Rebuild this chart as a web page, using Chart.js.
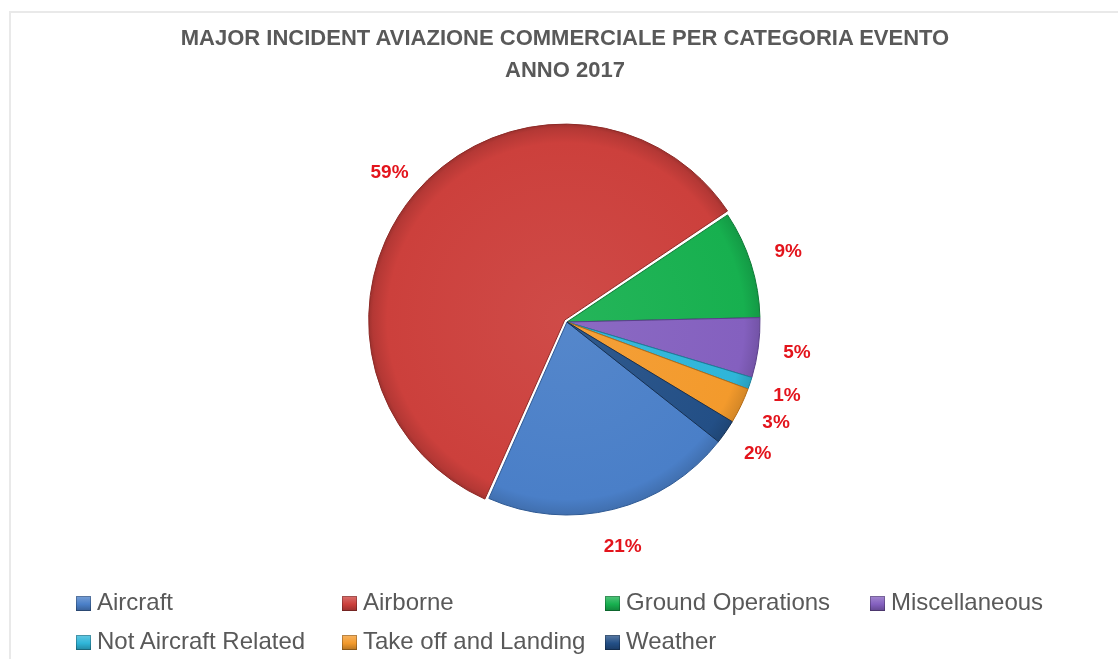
<!DOCTYPE html>
<html>
<head>
<meta charset="utf-8">
<script src="https://cdn.jsdelivr.net/npm/chart.js@4"></script>
<style>
  html, body { margin: 0; padding: 0; background: #fff; }
  #wrap { position: relative; width: 1118px; height: 659px; overflow: hidden; }
  #frame { position: absolute; left: 9px; top: 11px; width: 1200px; height: 700px;
           border-left: 2px solid #e9e9e9; border-top: 2px solid #e9e9e9; }
  #chart { position: absolute; left: 0; top: 0; }
  #title { position: absolute; left: 0; top: 22px; width: 1130px; text-align: center;
           font: bold 22px "Liberation Sans", Arial, sans-serif; color: #595959; line-height: 32px; }
  .lg { position: absolute; font: 24px "Liberation Sans", Arial, sans-serif; color: #595959;
        white-space: nowrap; line-height: 24px; }
  .lg i { display: inline-block; width: 15px; height: 15px; margin-right: 6px; vertical-align: -1px;
          box-shadow: inset 0 0 0 1px rgba(0,0,0,0.25); }
</style>
</head>
<body>
<div id="wrap">
  <div id="frame"></div>
  <canvas id="chart" width="1118" height="659"></canvas>
  <div id="title">MAJOR INCIDENT AVIAZIONE COMMERCIALE PER CATEGORIA EVENTO<br>ANNO 2017</div>
  <div id="legend"></div>
</div>
<script>
// event categories and their share (%)
const categories = ['Aircraft', 'Airborne', 'Ground Operations', 'Miscellaneous',
                    'Not Aircraft Related', 'Take off and Landing', 'Weather'];
const shares = [21, 59, 9, 5, 1, 3, 2];
const colors = ['#4a7fc8', '#cc403c', '#17b04f', '#8460bf', '#2fb5d8', '#f39a2c', '#234f86'];
const borders = ['#2f5a94', '#8e2a27', '#0e7a36', '#5a3f8a', '#1a7f99', '#b56c16', '#142f52'];

const RADIUS = 193;

function shade(hex, f) {
  const n = parseInt(hex.slice(1), 16);
  const ch = [(n >> 16) & 255, (n >> 8) & 255, n & 255].map(c =>
    Math.round(f < 0 ? c * (1 + f) : c + (255 - c) * f));
  return `rgb(${ch[0]},${ch[1]},${ch[2]})`;
}

// slight bevel: lighter near the centre, darker rim
function fill(ctx) {
  const chart = ctx.chart;
  const area = chart.chartArea;
  const base = colors[ctx.dataIndex];
  if (!area) return base;
  const cx = (area.left + area.right) / 2;
  const cy = (area.top + area.bottom) / 2;
  const g = chart.ctx.createRadialGradient(cx, cy, 0, cx, cy, RADIUS + 4);
  g.addColorStop(0, shade(base, 0.06));
  g.addColorStop(0.9, base);
  g.addColorStop(0.975, shade(base, -0.12));
  g.addColorStop(1, shade(base, -0.25));
  return g;
}

// percentage labels just outside each slice
const outsideLabels = {
  id: 'outsideLabels',
  afterDatasetsDraw(chart) {
    const c = chart.ctx;
    const meta = chart.getDatasetMeta(0);
    c.save();
    c.font = 'bold 19px "Liberation Sans", Arial, sans-serif';
    c.fillStyle = '#e3141c';
    c.textAlign = 'center';
    c.textBaseline = 'middle';
    meta.data.forEach((arc, i) => {
      const p = arc.getProps(['x', 'y', 'startAngle', 'endAngle']);
      const mid = (p.startAngle + p.endAngle) / 2;
      const r = RADIUS + 39;
      c.fillText(shares[i] + '%', p.x + Math.cos(mid) * r, p.y + Math.sin(mid) * r);
    });
    c.restore();
  }
};

new Chart(document.getElementById('chart'), {
  type: 'pie',
  data: {
    labels: categories,
    datasets: [{
      data: shares,
      backgroundColor: fill,
      borderColor: borders,
      borderWidth: 1,
      // Airborne slice pulled out a little
      offset: [0, 12, 0, 0, 0, 0, 0],
      radius: RADIUS
    }]
  },
  options: {
    responsive: false,
    animation: false,
    rotation: 128.3,
    layout: { padding: { left: 16, right: 0, top: 0, bottom: 15 } },
    plugins: {
      legend: { display: false },
      tooltip: { enabled: false }
    }
  },
  plugins: [outsideLabels]
});

// legend laid out in Excel-like columns
const legendCols = [76, 342, 605, 870];
const legendRows = [590, 629];
const legend = document.getElementById('legend');
categories.forEach((name, i) => {
  const d = document.createElement('div');
  d.className = 'lg';
  d.style.left = legendCols[i % 4] + 'px';
  d.style.top = legendRows[Math.floor(i / 4)] + 'px';
  const sw = document.createElement('i');
  sw.style.background = `linear-gradient(${shade(colors[i], 0.25)}, ${colors[i]} 55%, ${shade(colors[i], -0.25)})`;
  d.appendChild(sw);
  d.appendChild(document.createTextNode(name));
  legend.appendChild(d);
});
</script>
</body>
</html>
